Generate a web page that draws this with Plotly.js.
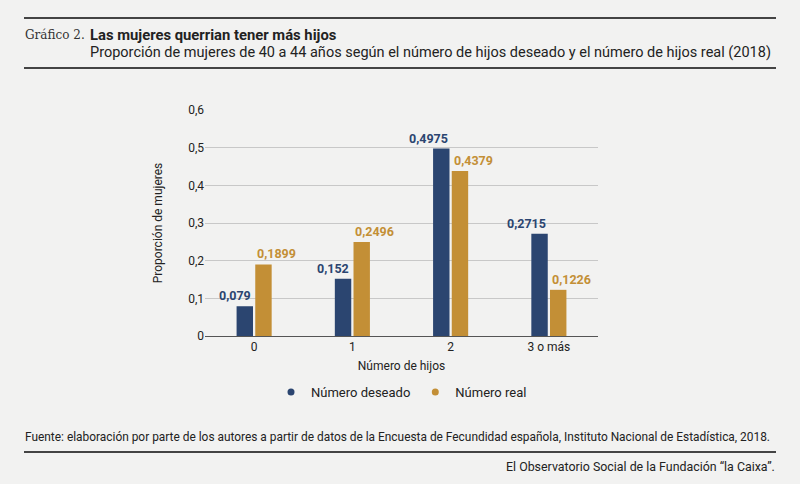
<!DOCTYPE html>
<html><head><meta charset="utf-8">
<script src="https://cdn.plot.ly/plotly-3.0.1.min.js"></script>
<style>body{margin:0;background:#f2f2f1}#plot{width:800px;height:484px}</style>
</head><body><div id="plot"></div>
<script>
// DATA
var categories = ['0', '1', '2', '3 o más'];
var deseado = [0.079, 0.152, 0.4975, 0.2715];
var real = [0.1899, 0.2496, 0.4379, 0.1226];
var seriesNames = ['Número deseado', 'Número real'];

function label(v) { return String(v).replace('.', ','); }

var navy = '#2b4570', gold = '#c38f36';
var ff = 'Roboto, Liberation Sans, sans-serif';

function bars(y, color) {
    return {x: categories, y: y, type: 'bar', showlegend: false, marker: {color: color}, hoverinfo: 'y'};
}
function legendItem(name, color) {
    return {x: [null], y: [null], type: 'scatter', mode: 'markers', name: name,
        marker: {color: color, size: 7, symbol: 'circle'}};
}

var data = [bars(deseado, navy), bars(real, gold), legendItem(seriesNames[0], navy), legendItem(seriesNames[1], gold)];

// value labels: navy ones end left of the group centre, gold ones start right of it
var valueLabels = [];
categories.forEach(function (c, i) {
    valueLabels.push({x: c, y: deseado[i], xref: 'x', yref: 'y', text: '<b>' + label(deseado[i]) + '</b>',
        showarrow: false, xanchor: 'right', yanchor: 'bottom', xshift: -1, yshift: 1,
        font: {color: navy, size: 12.5}});
    valueLabels.push({x: c, y: real[i], xref: 'x', yref: 'y', text: '<b>' + label(real[i]) + '</b>',
        showarrow: false, xanchor: 'left', yanchor: 'bottom', xshift: 1, yshift: 1,
        font: {color: gold, size: 12.5}});
});

// pixel helpers: plot area 205..598 x, 110..336 y
function px(x) { return (x - 205) / 393; }
function py(y) { return (336 - y) / 226; }

var layout = {
    width: 800, height: 484,
    paper_bgcolor: '#f2f2f1', plot_bgcolor: '#f2f2f1',
    font: {family: ff, color: '#222', size: 12},
    margin: {l: 205, r: 202, t: 110, b: 148},
    bargap: 0.62, bargroupgap: 0.12,
    separators: ',.',
    xaxis: {type: 'category', title: {text: 'Número de hijos', font: {size: 12}, standoff: 8},
            ticks: '', linecolor: '#555', showline: true},
    yaxis: {title: {text: 'Proporción de mujeres', font: {size: 12}, standoff: 22},
            range: [0, 0.6], dtick: 0.1, tickformat: ',.1~f',
            gridcolor: '#c8c8c8', zeroline: false, ticks: ''},
    legend: {orientation: 'h', x: 0.5, xanchor: 'center', y: py(392), yanchor: 'middle',
             font: {size: 13}, itemwidth: 30, tracegroupgap: 0},
    shapes: [
        {type: 'line', xref: 'paper', yref: 'paper', x0: px(24), x1: px(776), y0: py(18), y1: py(18), line: {color: '#444', width: 2}},
        {type: 'line', xref: 'paper', yref: 'paper', x0: px(24), x1: px(776), y0: py(68), y1: py(68), line: {color: '#444', width: 2}},
        {type: 'line', xref: 'paper', yref: 'paper', x0: px(24), x1: px(776), y0: py(452), y1: py(452), line: {color: '#444', width: 2}}
    ],
    annotations: valueLabels.concat([
        {xref: 'paper', yref: 'paper', x: px(23), y: py(35), xanchor: 'left', yanchor: 'middle', showarrow: false,
         text: 'Gráfico 2.', font: {family: 'DejaVu Serif, serif', size: 12, color: '#333'}},
        {xref: 'paper', yref: 'paper', x: px(88), y: py(35), xanchor: 'left', yanchor: 'middle', showarrow: false,
         text: '<b>Las mujeres querrian tener más hijos</b>', font: {size: 14.8, color: '#222'}},
        {xref: 'paper', yref: 'paper', x: px(88), y: py(52), xanchor: 'left', yanchor: 'middle', showarrow: false,
         text: 'Proporción de mujeres de 40 a 44 años según el número de hijos deseado y el número de hijos real (2018)', font: {size: 14.5, color: '#222'}},
        {xref: 'paper', yref: 'paper', x: px(23), y: py(437), xanchor: 'left', yanchor: 'middle', showarrow: false,
         text: 'Fuente: elaboración por parte de los autores a partir de datos de la Encuesta de Fecundidad española, Instituto Nacional de Estadística, 2018.', font: {size: 11.9, color: '#222'}},
        {xref: 'paper', yref: 'paper', x: px(777), y: py(466), xanchor: 'right', yanchor: 'middle', showarrow: false,
         text: 'El Observatorio Social de la Fundación “la Caixa”.', font: {size: 12.4, color: '#222'}}
    ])
};

Plotly.newPlot('plot', data, layout, {displayModeBar: false});
</script></body></html>
